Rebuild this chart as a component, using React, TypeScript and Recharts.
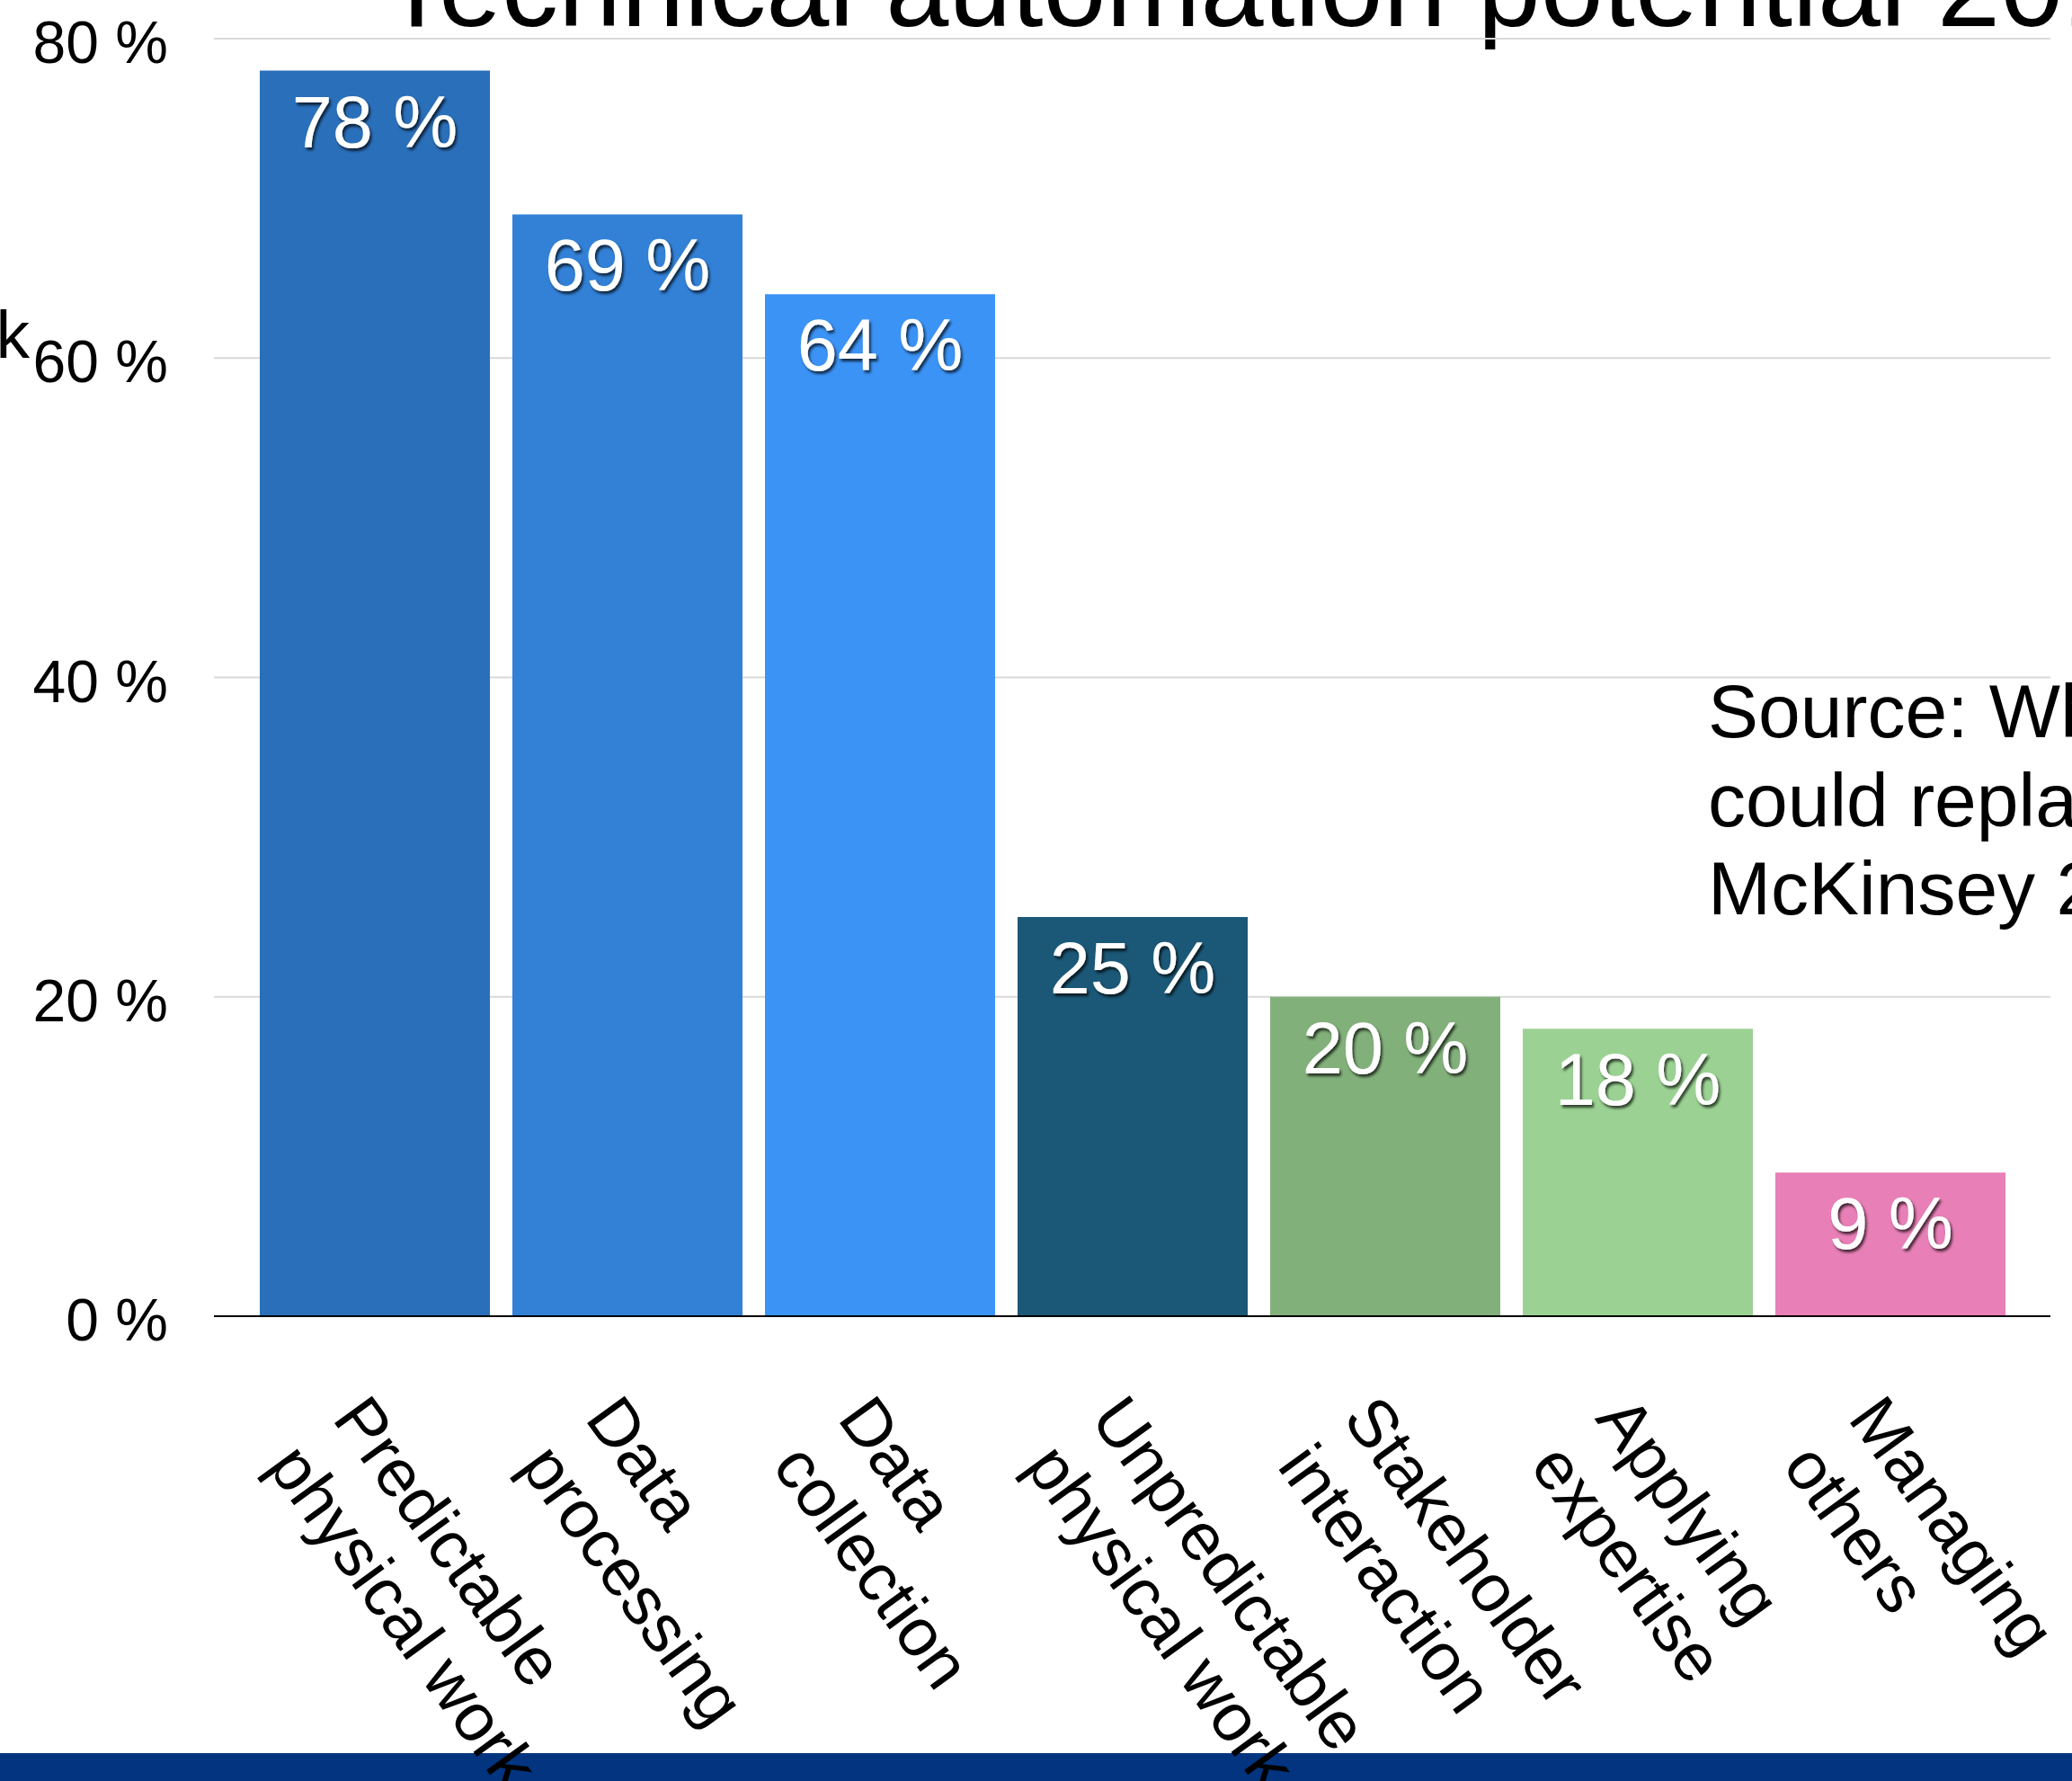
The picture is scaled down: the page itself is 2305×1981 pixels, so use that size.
import React from 'react';
import { BarChart, Bar, XAxis, YAxis, CartesianGrid, Cell, LabelList } from 'recharts';

const categoryLines = [
  ['Predictable', 'physical work'],
  ['Data', 'processing'],
  ['Data', 'collection'],
  ['Unpredictable', 'physical work'],
  ['Stakeholder', 'interaction'],
  ['Applying', 'expertise'],
  ['Managing', 'others'],
];
const values = [78, 69, 64, 25, 20, 18, 9];
const yTicks = [0, 20, 40, 60, 80];

const barColors = ['#2a6fba', '#3281d7', '#3b93f6', '#1b5877', '#82b07a', '#9bd293', '#e87fb6'];

const W = 2305;
const H = 1981;
const FONT = '"Liberation Sans", Arial, Helvetica, sans-serif';

const data = categoryLines.map((lines, i) => ({ name: lines.join(' '), value: values[i] }));
const linesByName = new Map(data.map((d, i) => [d.name, categoryLines[i]]));

function CategoryTick({ x, y, payload }: any) {
  const lines = linesByName.get(payload.value) || [payload.value];
  return (
    <g transform={`translate(${x - 48},${y + 114}) rotate(54)`}>
      <text fontFamily={FONT} fontSize={75} fill="#000">
        {lines.map((l: string, i: number) => (
          <tspan key={i} x={0} dy={i === 0 ? 0 : 90}>
            {l}
          </tspan>
        ))}
      </text>
    </g>
  );
}

function PercentTick({ x, y, payload }: any) {
  return (
    <text x={x} y={y + 27} textAnchor="end" fontFamily={FONT} fontSize={66} fill="#000">
      {payload.value} %
    </text>
  );
}

function ValueLabel({ x, y, width, value }: any) {
  return (
    <text
      x={x + width / 2}
      y={y + 85}
      textAnchor="middle"
      fontFamily={FONT}
      fontSize={81}
      fill="#fff"
      filter="url(#labelShadow)"
    >
      {value} %
    </text>
  );
}

export default function App() {
  return (
    <div style={{ position: 'absolute', left: 0, top: 0, width: W, height: H, overflow: 'hidden', background: '#fff' }}>
      {/* slide decoration under the chart */}
      <svg width={W} height={H} style={{ position: 'absolute', left: 0, top: 0 }}>
        <defs>
          <filter id="labelShadow" x="-20%" y="-20%" width="140%" height="160%">
            <feDropShadow dx="2" dy="3" stdDeviation="1.6" floodColor="#000" floodOpacity="0.7" />
          </filter>
        </defs>
        <rect x={0} y={1950} width={W} height={31} fill="#02347f" />
        <text x={425} y={29} fontFamily={FONT} fontSize={126} fill="#000">
          Technical automation potential 2016
        </text>
        <text x={33} y={398} textAnchor="end" fontFamily={FONT} fontSize={75} fill="#000">
          k
        </text>
        <text fontFamily={FONT} fontSize={84} fill="#000">
          <tspan x={1900} y={820}>Source: Where machines</tspan>
          <tspan x={1900} y={919}>could replace humans</tspan>
          <tspan x={1900} y={1017}>McKinsey 2016</tspan>
        </text>
      </svg>

      <div style={{ position: 'absolute', left: 0, top: 0 }}>
        <BarChart width={W} height={H} data={data} margin={{ top: 43, right: 24, bottom: 0, left: 0 }}>
          <CartesianGrid vertical={false} stroke="#d9d9d9" strokeWidth={2} />
          <XAxis
            dataKey="name"
            height={517}
            interval={0}
            padding={{ left: 38, right: 38 }}
            axisLine={{ stroke: '#000', strokeWidth: 2 }}
            tickLine={false}
            tickSize={0}
            tickMargin={0}
            tick={<CategoryTick />}
          />
          <YAxis
            width={238}
            domain={[0, 80]}
            ticks={yTicks}
            axisLine={false}
            tickLine={false}
            tickSize={0}
            tickMargin={51}
            tick={<PercentTick />}
          />
          <Bar dataKey="value" barSize={256} isAnimationActive={false}>
            {data.map((d, i) => (
              <Cell key={d.name} fill={barColors[i]} />
            ))}
            <LabelList dataKey="value" content={<ValueLabel />} />
          </Bar>
        </BarChart>
      </div>
    </div>
  );
}
